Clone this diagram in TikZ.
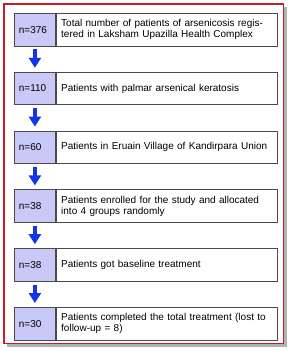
\documentclass[tikz,border=0pt]{standalone}
\usepackage{fontspec}
\setmainfont{Liberation Sans}
\usepackage{tikz}
\usetikzlibrary{arrows.meta, positioning}
\definecolor{frame}{HTML}{C0202A}
\definecolor{cellfill}{HTML}{C9C9F7}
\definecolor{arrowblue}{HTML}{1434E6}
\definecolor{boxline}{HTML}{4A4A4A}

\begin{document}
\begin{tikzpicture}[
    x=1pt, y=1pt,
    font=\fontsize{10}{11}\selectfont,
    ncell/.style={draw=boxline, line width=0.8pt, fill=cellfill, text width=32pt, inner xsep=4.5pt, minimum height=32.5pt, align=left},
    tcell/.style={draw=boxline, line width=0.8pt, fill=white, text width=211pt, inner xsep=5pt, minimum height=32.5pt, align=left, anchor=west},
    flow/.style={arrowblue, line width=3.6pt, -{Triangle[width=12pt, length=10pt]}, shorten <=3pt, shorten >=4pt}
]
\useasboundingbox (0,0) rectangle (290,-351);
% shadow and frame
\fill[gray!60] (6.5,-6.5) rectangle (286.5,-346.5);
\draw[frame, line width=1.5pt, fill=white] (4,-4) rectangle (283.5,-343.5);

% boxes
\node[ncell, anchor=north west] (n1) at (14,-13) {n=376};
\node[tcell] (t1) at (n1.east) {Total number of patients of arsenicosis regis-\\tered in Laksham Upazilla Health Complex};
\node[ncell, below=25.5pt of n1] (n2) {n=110};
\node[tcell] (t2) at (n2.east) {Patients with palmar arsenical keratosis};
\node[ncell, below=25.5pt of n2] (n3) {n=60};
\node[tcell] (t3) at (n3.east) {Patients in Eruain Village of Kandirpara Union};
\node[ncell, below=25.5pt of n3] (n4) {n=38};
\node[tcell] (t4) at (n4.east) {Patients enrolled for the study and allocated\\into 4 groups randomly};
\node[ncell, below=25.5pt of n4] (n5) {n=38};
\node[tcell] (t5) at (n5.east) {Patients got baseline treatment};
\node[ncell, below=25.5pt of n5] (n6) {n=30};
\node[tcell] (t6) at (n6.east) {Patients completed the total treatment (lost to\\follow-up = 8)};

% arrows
\foreach \a/\b in {n1/n2, n2/n3, n3/n4, n4/n5, n5/n6}
    \draw[flow] (\a.south) -- (\b.north);
\end{tikzpicture}
\end{document}
